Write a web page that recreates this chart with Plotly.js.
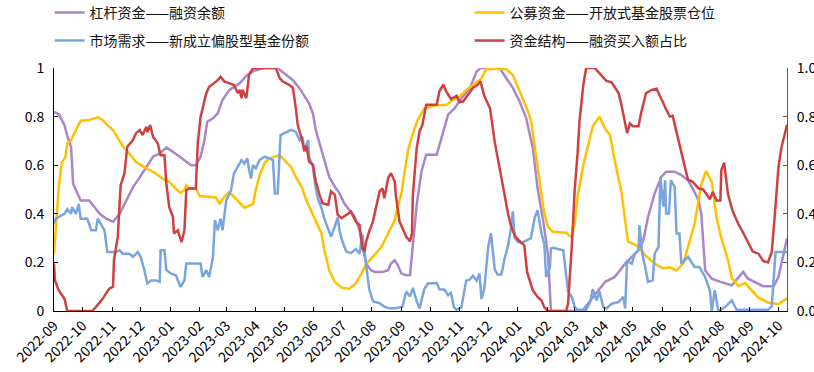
<!DOCTYPE html>
<html>
<head>
<meta charset="utf-8">
<script src="https://cdn.plot.ly/plotly-3.0.1.min.js"></script>
<style>
  html, body { margin: 0; padding: 0; background: #fff; }
  #chart { width: 814px; height: 372px; }
</style>
</head>
<body>
<div id="chart"></div>
<script>
// Days since 2022-09-01, and values
const startDate = '2022-09-01';
const endDate = '2024-10-10';

const seriesNames = [
  '杠杆资金——融资余额',
  '公募资金——开放式基金股票仓位',
  '市场需求——新成立偏股型基金份额',
  '资金结构——融资买入额占比'
];

const leverageDays = [0,5,11,14,18,20,25,28,37,42,48,55,62,69,76,83,90,97,104,111,118,125,132,139,144,149,154,158,161,167,172,177,184,195,203,211,221,235,242,251,258,263,268,272,275,279,282,286,289,295,300,305,310,316,321,324,328,333,337,345,351,354,358,361,365,370,374,377,381,386,391,402,405,409,414,421,428,437,444,448,468,475,482,489,496,503,508,514,519,522,555,563,573,579,589,600,607,614,619,624,631,638,643,652,659,666,671,677,680,684,691,700,712,719,724,729,736,745,756,761,770];
const leverageVals = [.82,.81,.765,.72,.675,.525,.48,.455,.455,.43,.40,.38,.367,.40,.455,.51,.55,.593,.635,.648,.673,.655,.635,.614,.60,.60,.635,.703,.779,.793,.813,.868,.909,.937,.971,.99,1.0,1.0,.978,.95,.916,.882,.854,.813,.745,.69,.648,.593,.552,.511,.484,.442,.415,.387,.332,.264,.195,.168,.161,.161,.168,.195,.209,.19,.154,.147,.148,.286,.437,.574,.643,.643,.684,.739,.808,.835,.876,.918,.986,1.0,1.0,.959,.918,.863,.794,.67,.505,.368,.23,0,0,.04,.093,.12,.14,.195,.223,.25,.29,.387,.484,.552,.573,.573,.559,.538,.504,.456,.40,.168,.133,.12,.106,.14,.161,.133,.12,.102,.102,.14,.298];

const fundDays = [0,3,5,8,12,14,18,23,28,37,46,51,56,62,67,72,79,86,93,100,107,114,121,128,133,137,139,142,149,153,160,170,174,179,184,191,200,209,212,216,221,226,232,237,242,249,254,260,265,270,275,281,284,289,295,302,310,317,323,328,335,344,351,358,361,365,368,372,377,382,389,402,412,419,426,433,440,449,454,475,482,489,496,501,505,508,512,515,519,524,538,544,547,550,556,561,566,573,579,584,589,596,603,612,621,631,640,647,654,661,666,673,680,685,691,696,701,708,712,719,726,733,740,750,761,770];
const fundVals = [.236,.387,.51,.607,.635,.69,.703,.745,.783,.786,.797,.786,.765,.745,.71,.679,.648,.614,.596,.58,.566,.545,.532,.504,.486,.497,.518,.504,.504,.473,.47,.467,.442,.47,.49,.46,.425,.44,.499,.559,.607,.628,.635,.641,.621,.593,.552,.511,.456,.415,.374,.319,.25,.168,.12,.096,.092,.113,.154,.195,.223,.264,.319,.374,.429,.484,.566,.662,.731,.786,.834,.848,.848,.868,.882,.909,.93,.957,.996,.996,.971,.909,.841,.786,.676,.58,.47,.401,.346,.326,.322,.303,.36,.47,.60,.684,.76,.80,.75,.725,.62,.49,.285,.27,.23,.195,.175,.18,.167,.195,.26,.36,.52,.577,.53,.385,.30,.21,.135,.103,.115,.085,.055,.035,.028,.052];

const demandDays = [0,2,5,11,14,18,19,23,26,28,35,39,44,46,49,53,56,65,69,72,79,83,88,91,95,98,102,107,111,112,116,118,123,128,133,137,139,154,156,160,163,167,169,172,175,177,181,186,189,193,197,200,203,205,207,209,212,216,221,226,230,232,235,238,242,249,254,258,261,263,267,268,272,274,277,281,284,288,291,295,298,300,303,307,312,317,321,324,328,331,335,342,347,352,359,366,370,374,377,381,384,389,393,402,405,410,414,417,420,423,428,433,437,440,444,447,449,452,456,459,463,466,470,473,477,480,482,484,487,491,496,501,505,508,512,515,517,521,522,524,535,538,540,544,547,550,559,563,566,570,573,577,580,586,593,598,600,602,607,610,614,615,618,621,624,629,631,635,637,640,642,643,646,648,652,654,657,659,666,673,678,684,689,691,694,698,705,712,717,750,754,758,770];
const demandVals = [.36,.38,.387,.40,.42,.40,.428,.40,.44,.38,.38,.332,.332,.38,.36,.332,.243,.243,.25,.236,.236,.223,.243,.223,.168,.113,.126,.126,.12,.25,.25,.168,.154,.147,.099,.126,.195,.195,.14,.168,.14,.223,.374,.332,.38,.332,.456,.497,.566,.593,.621,.607,.628,.58,.545,.6,.587,.621,.635,.628,.621,.484,.484,.724,.731,.745,.738,.703,.717,.662,.703,.635,.593,.53,.464,.423,.38,.341,.306,.348,.385,.33,.286,.245,.238,.255,.236,.315,.178,.093,.04,.032,.018,.011,.011,.018,.08,.06,.095,.04,.011,.09,.113,.115,.088,.088,.065,.075,.016,.005,.016,.125,.13,.145,.125,.154,.05,.09,.26,.32,.17,.15,.15,.21,.27,.34,.41,.30,.285,.28,.29,.30,.385,.415,.32,.277,.14,.18,.257,.26,.25,.15,.08,.058,.016,.005,.005,.035,.09,.044,.08,.016,.01,.03,.037,.058,.01,.205,.195,.236,.25,.353,.236,.181,.12,.126,.236,.264,.552,.429,.538,.401,.401,.538,.511,.319,.319,.195,.223,.181,.181,.14,.085,0,.085,0,.016,.044,.005,.005,.02,.243,.243];

const buyShareDays = [0,1,5,11,14,40,44,51,58,62,63,67,70,74,77,83,86,90,93,97,98,101,104,109,112,116,118,121,125,126,130,134,137,139,142,149,151,154,160,163,168,172,175,179,184,189,193,195,197,198,202,205,209,233,237,240,247,251,254,256,260,263,265,268,272,275,279,282,288,291,295,298,302,307,312,317,321,324,326,328,331,335,338,342,345,347,351,354,358,359,363,366,370,374,376,377,381,384,387,391,402,405,409,412,417,423,426,430,435,440,445,448,452,458,463,468,473,477,480,484,489,494,497,503,508,512,515,519,538,540,544,547,550,552,556,559,568,573,580,586,593,596,600,602,605,608,614,617,622,628,633,638,643,647,650,654,659,663,666,671,677,682,685,689,692,696,700,701,704,708,713,719,724,729,734,740,745,750,754,757,761,764,770];
const buyShareVals = [.195,.126,.085,.05,0,0,.016,.05,.092,.1,.209,.305,.518,.566,.676,.703,.731,.745,.724,.758,.735,.765,.717,.69,.641,.641,.525,.428,.387,.319,.332,.284,.332,.497,.504,.504,.69,.80,.896,.923,.937,.95,.964,.944,.938,.93,.897,.91,.876,.91,.876,.973,1.0,1.0,.959,.945,.931,.918,.835,.766,.712,.657,.68,.615,.602,.533,.478,.444,.437,.492,.478,.396,.382,.396,.409,.368,.354,.258,.245,.286,.327,.368,.423,.492,.505,.464,.547,.567,.533,.478,.368,.341,.306,.286,.319,.478,.67,.739,.766,.849,.849,.905,.931,.904,.872,.886,.86,.863,.89,.918,.931,.945,.885,.835,.695,.585,.484,.40,.35,.31,.288,.27,.16,.085,.058,.044,.016,0,0,.03,.27,.5,.648,.78,.93,1.0,1.0,.979,.948,.94,.897,.85,.77,.732,.772,.76,.76,.82,.897,.91,.915,.87,.83,.80,.803,.735,.652,.59,.54,.532,.505,.5,.484,.46,.49,.455,.455,.58,.61,.48,.41,.357,.322,.28,.245,.236,.206,.2,.243,.385,.59,.67,.766];

const colors = ['#A986C9', '#FFC000', '#79A5DE', '#CF4040'];

const base = Date.parse(startDate + 'T00:00:00Z');
function toDates(days) {
  return days.map(d => new Date(base + d * 86400000).toISOString().slice(0, 10));
}

const font = 'Noto Sans CJK SC, Noto Sans, sans-serif';

const traces = [
  {x: toDates(leverageDays), y: leverageVals, name: seriesNames[0], legend: 'legend'},
  {x: toDates(fundDays), y: fundVals, name: seriesNames[1], legend: 'legend2'},
  {x: toDates(demandDays), y: demandVals, name: seriesNames[2], legend: 'legend3'},
  {x: toDates(buyShareDays), y: buyShareVals, name: seriesNames[3], legend: 'legend4', yaxis: 'y2'}
].map((t, i) => Object.assign({
  type: 'scatter', mode: 'lines',
  line: {color: colors[i], width: 2.5},
  hoverinfo: 'skip'
}, t));

const legendCommon = {
  orientation: 'h',
  xref: 'paper', yref: 'container',
  xanchor: 'left',
  yanchor: 'middle',
  font: {family: font, size: 14, color: '#111'},
  bgcolor: 'rgba(0,0,0,0)',
  borderwidth: 0
};
const colLeft = -0.006, colRight = 0.567, rowTop = 0.965, rowBottom = 0.89;

const axisFont = {family: font, size: 14, color: '#000'};

const layout = {
  width: 814, height: 372,
  margin: {l: 54, r: 27, t: 68, b: 61},
  paper_bgcolor: '#fff', plot_bgcolor: '#fff',
  showlegend: true,
  legend: Object.assign({}, legendCommon, {x: colLeft, y: rowTop}),
  legend2: Object.assign({}, legendCommon, {x: colRight, y: rowTop}),
  legend3: Object.assign({}, legendCommon, {x: colLeft, y: rowBottom}),
  legend4: Object.assign({}, legendCommon, {x: colRight, y: rowBottom}),
  xaxis: {
    type: 'date',
    range: [startDate, endDate],
    tick0: '2022-09-01', dtick: 'M1',
    tickformat: '%Y-%m',
    tickangle: -45,
    ticks: 'inside', ticklen: 4, tickcolor: '#000',
    showline: true, linecolor: '#000', linewidth: 1,
    showgrid: false, zeroline: false,
    tickfont: axisFont
  },
  yaxis: {
    range: [0, 1], dtick: 0.2,
    ticks: 'inside', ticklen: 4, tickcolor: '#000',
    ticklabelstandoff: 6,
    showline: true, linecolor: '#000', linewidth: 1,
    showgrid: false, zeroline: false,
    tickfont: axisFont
  },
  yaxis2: {
    overlaying: 'y', side: 'right',
    range: [0, 1], dtick: 0.2, tickformat: '.1f',
    ticks: 'inside', ticklen: 4, tickcolor: '#595959',
    ticklabelstandoff: 6,
    showline: true, linecolor: '#595959', linewidth: 1,
    showgrid: false, zeroline: false,
    tickfont: axisFont
  }
};

Plotly.newPlot('chart', traces, layout, {displayModeBar: false, staticPlot: true});
</script>
</body>
</html>
